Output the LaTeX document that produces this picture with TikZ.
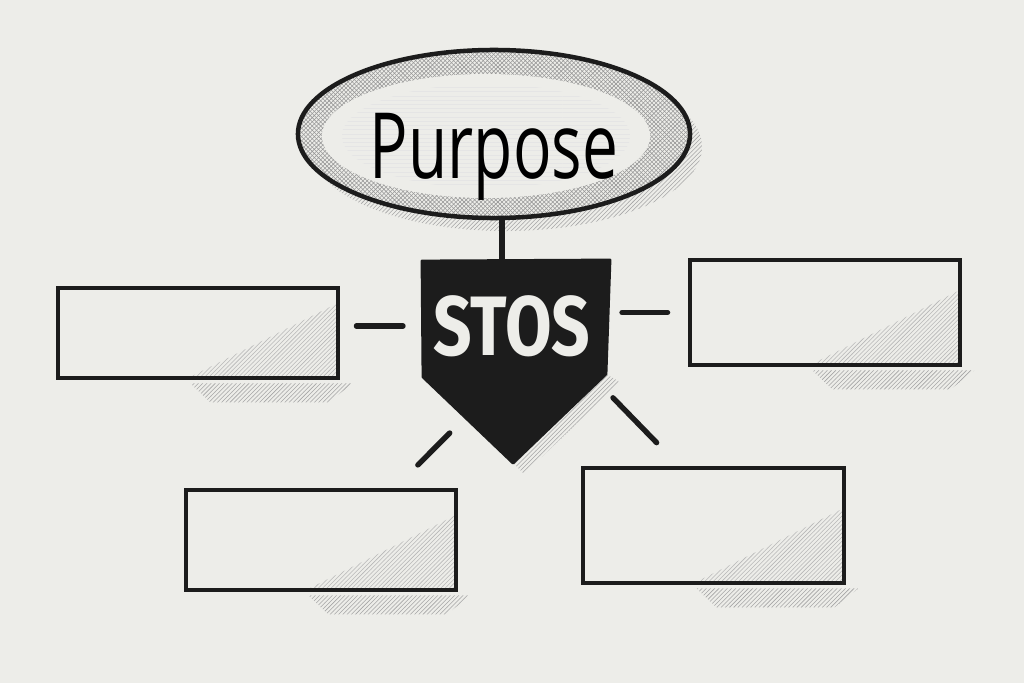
\documentclass[tikz,border=0pt]{standalone}
\usepackage{fontspec}
\newfontfamily\handfont[FakeStretch=0.7]{Open Sans}
\newfontfamily\stosfont[FakeStretch=0.8]{Fira Sans}
\usetikzlibrary{shapes.geometric,patterns,calc}
\definecolor{paper}{RGB}{237,237,233}
\definecolor{ink}{RGB}{28,28,28}
\tikzset{
  hatch/.style={pattern=north east lines, pattern color=black!35},
  box/.style={rectangle, draw=ink, fill=paper, line width=3.4pt, inner sep=0pt,
    path picture={\fill[pattern=north east lines, pattern color=black!28]
      (path picture bounding box.south east) -- ++(0,-75) -- ++(-150,75) -- cycle;}},
  link/.style={draw=ink, line width=3.8pt, line cap=round},
}

\begin{document}
\begin{tikzpicture}[x=0.025cm, y=-0.025cm]
      \fill[paper] (0,0) rectangle (1024,683);
      \useasboundingbox (0,0) rectangle (1024,683);

      \fill[hatch] (506,147) ellipse (4.9cm and 2.1cm);
      \node[ellipse, draw=ink, fill=paper, line width=3.2pt, inner sep=0pt,
        minimum width=9.8cm, minimum height=4.2cm,
        path picture={
          \fill[pattern=crosshatch, pattern color=black!40]
            (path picture bounding box.south west) rectangle (path picture bounding box.north east);
          \fill[paper] ($(path picture bounding box.center)+(-8,2)$) ellipse (4.1cm and 1.55cm);
          \fill[pattern=horizontal lines, pattern color=black!10]
            ($(path picture bounding box.center)+(-8,2)$) ellipse (3.6cm and 1.3cm);
        }] (p) at (494,134) {\raisebox{-1.1cm}[0pt][0pt]{\handfont\fontsize{65}{70}\selectfont Purpose}};

      \coordinate (s1) at (422,261);
      \coordinate (s2) at (610,260);
      \coordinate (s3) at (606,374);
      \coordinate (s4) at (513,463);
      \coordinate (s5) at (423,377);
      \fill[hatch] (s3) -- (620,382) -- (524,474) -- (s4) -- cycle;
      \filldraw[ink, line width=2pt, line join=round] (s1) -- (s2) -- (s3) -- (s4) -- (s5) -- cycle;
      \node[text=paper] (s) at (512,326) {\stosfont\bfseries\fontsize{60}{60}\selectfont STOS};

      \node[box, minimum width=7cm, minimum height=2.25cm] (b1) at (198,333) {};
      \node[box, minimum width=6.75cm, minimum height=2.625cm] (b2) at (825,312.5) {};
      \node[box, minimum width=6.75cm, minimum height=2.5cm] (b3) at (321,540) {};
      \node[box, minimum width=6.525cm, minimum height=2.875cm] (b4) at (713.5,525.5) {};

      \foreach \b in {b1,b2,b3,b4}
        \fill[hatch] ($(\b.south east)+(-150,3)$) -- ($(\b.south east)+(12,3)$)
          -- ($(\b.south east)+(-12,22)$) -- ($(\b.south east)+(-130,22)$) -- cycle;

      \coordinate (t) at (502,261);
      \coordinate (l1) at ($(s5)!0.47!(s4)$);
      \coordinate (l2) at ($(b3.north west)!0.77!(b3.north east)$);
      \coordinate (r1) at ($(s3)!0.09!(s4)$);
      \coordinate (r2) at ($(b4.north west)!0.37!(b4.north east)$);

      \draw[link] (p.south -| t) -- (t);
      \draw[link, shorten <=0.4cm, shorten >=0.5cm] (b1.east |- s) -- (s5 |- s);
      \draw[link, shorten <=0.4cm, shorten >=0.5cm] (s3 |- b2) -- (b2.west);
      \draw[link, shorten <=0.55cm, shorten >=0.8cm] (l1) -- (l2);
      \draw[link, shorten <=0.55cm, shorten >=0.8cm] (r1) -- (r2);
\end{tikzpicture}
\end{document}
